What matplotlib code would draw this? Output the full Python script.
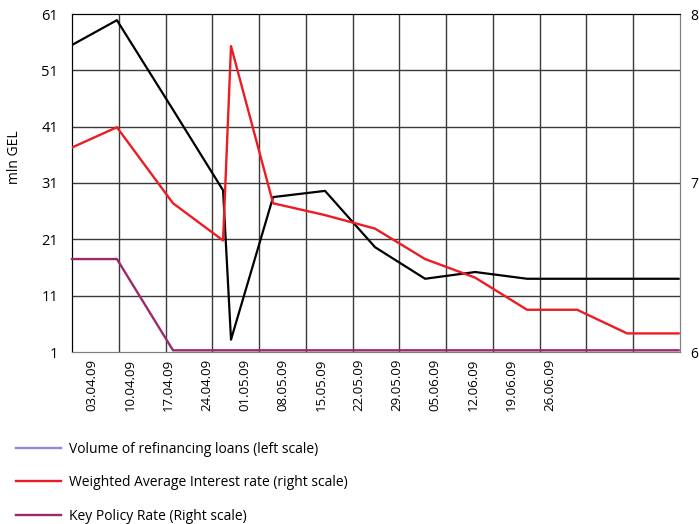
import numpy as np
import matplotlib
matplotlib.use('Agg')
import matplotlib.pyplot as plt
from matplotlib.lines import Line2D

plt.rcParams['font.family'] = ['Open Sans', 'DejaVu Sans']

# dates shown on the x axis
dates = ['03.04.09', '10.04.09', '17.04.09', '24.04.09', '01.05.09', '08.05.09',
         '15.05.09', '22.05.09', '29.05.09', '05.06.09', '12.06.09', '19.06.09', '26.06.09']

# x position of each observation (in grid cells, axis runs 0..13)
obs_x = [0, 0.96, 2.16, 3.23, 3.40, 4.30, 5.41, 6.48, 7.55, 8.62, 9.73, 10.80, 11.87, 12.97]

# volume of refinancing loans, mln GEL (left scale)
volume = [55.5, 59.9, 44.0, 29.7, 3.2, 28.5, 29.6, 19.6, 14.0, 15.2, 14.0, 14.0, 14.0, 14.0]
# weighted average interest rate (right scale)
wair = [7.21, 7.33, 6.88, 6.66, 7.81, 6.88, 6.81, 6.73, 6.55, 6.44, 6.25, 6.25, 6.11, 6.11]
# key policy rate (right scale)
kpr = [6.55, 6.55, 6.01, 6.01, 6.01, 6.01, 6.01, 6.01, 6.01, 6.01, 6.01, 6.01, 6.01, 6.01]

left_ticks = [1, 11, 21, 31, 41, 51, 61]
right_ticks = [6, 7, 8]

c_red = '#ed1c24'
c_purple = '#9b2a6b'
c_lav = '#8e8cd6'

fig = plt.figure(figsize=(6.99, 5.24), dpi=100)
ax = fig.add_axes([72/699, 1-352/524, 608/699, 338/524])
ax2 = ax.twinx()

ax.set_xlim(0, 13)
ax.set_ylim(1, 61)
ax2.set_ylim(6, 8)

# grid: cell borders vertically, left ticks horizontally
for gx in range(1, 13):
    ax.axvline(gx, color='#3a3a3a', lw=1.0, zorder=0)
for gy in left_ticks[1:-1]:
    ax.axhline(gy, color='#3a3a3a', lw=1.0, zorder=0)

ax.plot(obs_x, volume, color='black', lw=1.6, zorder=3)
ax2.plot(obs_x, wair, color=c_red, lw=1.7, zorder=3)
ax2.plot(obs_x, kpr, color=c_purple, lw=1.7, zorder=3, clip_on=False)

ax.set_yticks(left_ticks)
ax.set_yticklabels([str(t) for t in left_ticks], fontsize=10.5)
ax2.set_yticks(right_ticks)
ax2.set_yticklabels([str(t) for t in right_ticks], fontsize=10)

tick_pos = 0.43 + 0.815 * np.arange(len(dates))
ax.set_xticks(tick_pos)
ax.set_xticklabels(dates, rotation=90, fontsize=9.5)

ax.tick_params(axis='y', length=0, pad=10)
ax2.tick_params(axis='y', length=0, pad=7.5)
ax.tick_params(axis='x', length=0, pad=5)

ax.spines['top'].set_color('black')
ax.spines['left'].set_color('black')
for sp in ['right', 'bottom']:
    ax.spines[sp].set_color('#808080')
    ax2.spines[sp].set_color('#808080')
ax2.spines['top'].set_color('black')
ax2.spines['left'].set_color('black')

fig.text(15/699, 1-157/524, 'mln GEL', rotation=90, fontsize=10, ha='center', va='center')

handles = [Line2D([], [], color=c_lav, lw=1.7),
           Line2D([], [], color=c_red, lw=1.7),
           Line2D([], [], color=c_purple, lw=1.7)]
labels = ['Volume of refinancing loans (left scale)',
          'Weighted Average Interest rate (right scale)',
          'Key Policy Rate (Right scale)']
fig.legend(handles, labels, loc='upper left', bbox_to_anchor=(10/699, 1-436/524),
           frameon=False, fontsize=10, handlelength=3.3, handletextpad=0.55,
           labelspacing=1.35, borderaxespad=0)

fig.savefig('out.png', dpi=100)
